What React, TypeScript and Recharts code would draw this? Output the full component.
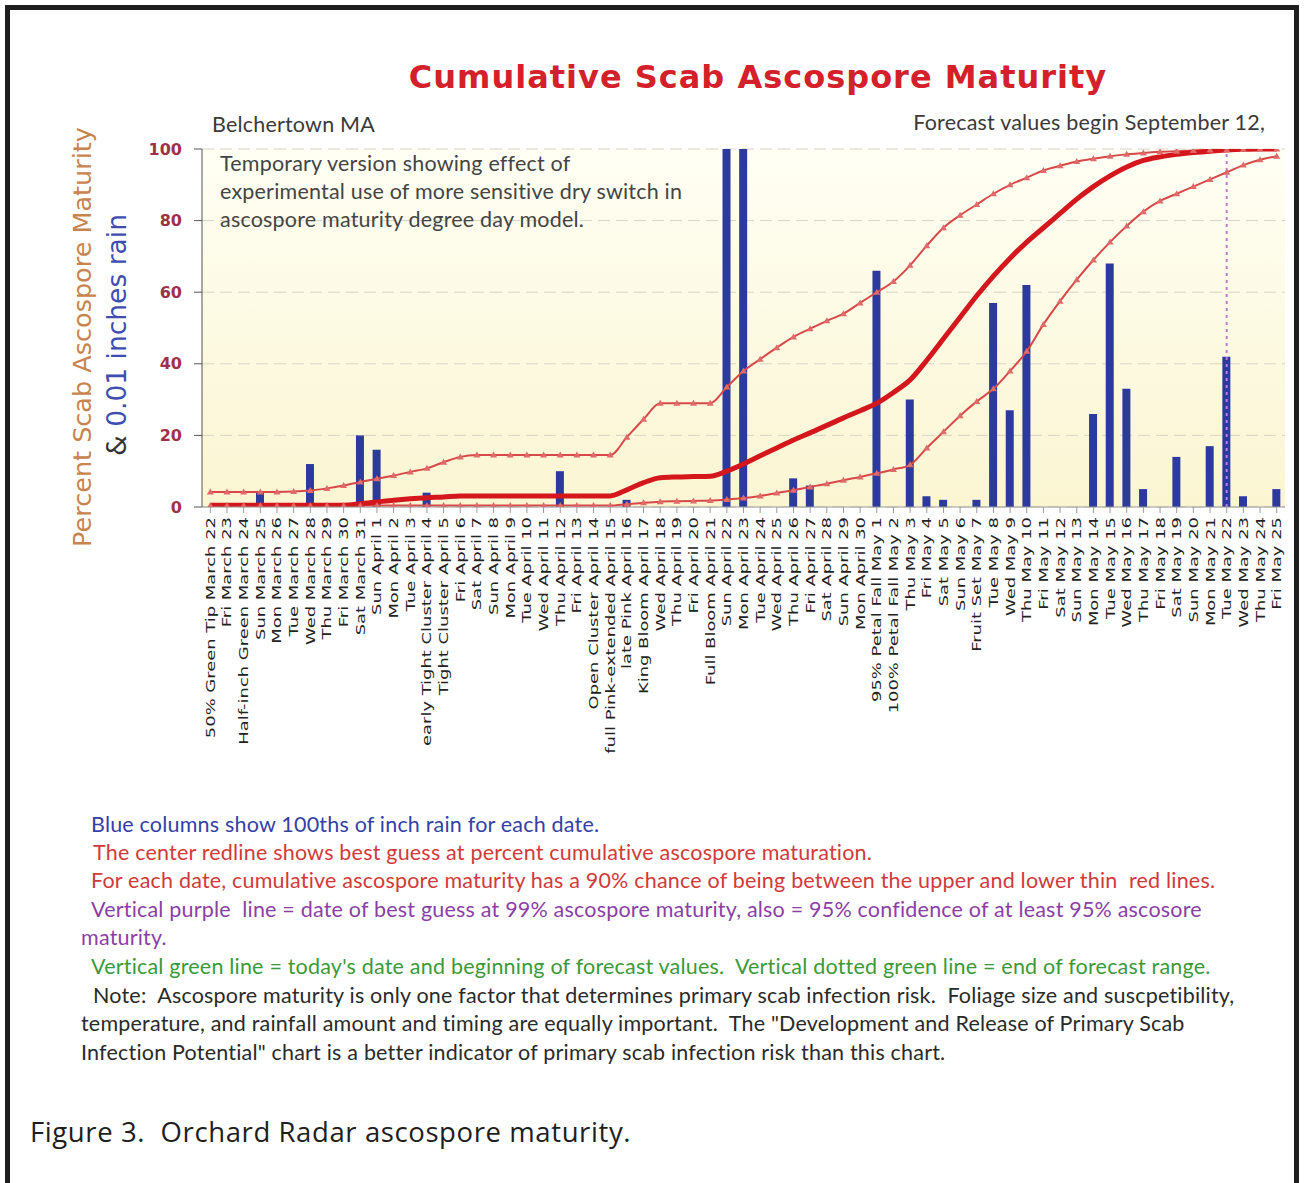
import { ComposedChart, Bar, Line, XAxis, YAxis, CartesianGrid, ReferenceLine } from "recharts";

const dates = [
  "March 22", "March 23", "March 24", "March 25", "March 26", "March 27", "March 28", "March 29", "March 30", "March 31",
  "April 1", "April 2", "April 3", "April 4", "April 5", "April 6", "April 7", "April 8", "April 9", "April 10",
  "April 11", "April 12", "April 13", "April 14", "April 15", "April 16", "April 17", "April 18", "April 19", "April 20",
  "April 21", "April 22", "April 23", "April 24", "April 25", "April 26", "April 27", "April 28", "April 29", "April 30",
  "May 1", "May 2", "May 3", "May 4", "May 5", "May 6", "May 7", "May 8", "May 9", "May 10",
  "May 11", "May 12", "May 13", "May 14", "May 15", "May 16", "May 17", "May 18", "May 19", "May 20",
  "May 21", "May 22", "May 23", "May 24", "May 25",
];

const stages = [
  "50% Green Tip", "Fri", "Half-inch Green", "Sun", "Mon", "Tue", "Wed", "Thu", "Fri", "Sat",
  "Sun", "Mon", "Tue", "early Tight Cluster", "Tight Cluster", "Fri", "Sat", "Sun", "Mon", "Tue",
  "Wed", "Thu", "Fri", "Open Cluster", "full Pink-extended", "late Pink", "King Bloom", "Wed", "Thu", "Fri",
  "Full Bloom", "Sun", "Mon", "Tue", "Wed", "Thu", "Fri", "Sat", "Sun", "Mon",
  "95% Petal Fall", "100% Petal Fall", "Thu", "Fri", "Sat", "Sun", "Fruit Set", "Tue", "Wed", "Thu",
  "Fri", "Sat", "Sun", "Mon", "Tue", "Wed", "Thu", "Fri", "Sat", "Sun",
  "Mon", "Tue", "Wed", "Thu", "Fri",
];

// 100ths of inch rain
const rain = [
  0, 0, 0, 4, 0, 0, 12, 0, 0, 20,
  16, 0, 0, 4, 0, 0, 0, 0, 0, 0,
  0, 10, 0, 0, 0, 2, 0, 0, 0, 0,
  0, 100, 100, 0, 0, 8, 6, 0, 0, 0,
  66, 0, 30, 3, 2, 0, 2, 57, 27, 62,
  0, 0, 0, 26, 68, 33, 5, 0, 14, 0,
  17, 42, 3, 0, 5,
];

const bestGuess = [
  0.5, 0.5, 0.5, 0.5, 0.5, 0.5, 0.5, 0.5, 0.5, 0.9,
  1.4, 1.9, 2.3, 2.6, 2.8, 3.1, 3.1, 3.1, 3.1, 3.1,
  3.1, 3.1, 3.1, 3.1, 3.1, 4.8, 6.8, 8.2, 8.4, 8.5,
  8.6, 10, 12, 14.3, 16.5, 18.7, 20.7, 22.8, 24.9, 26.9,
  29, 32, 35.5, 41, 47, 53, 59, 64.5, 69.5, 74,
  78, 82, 86, 89.5, 92.5, 95, 96.8, 97.8, 98.5, 99,
  99.4, 99.7, 99.9, 100, 100,
];

const upper90 = [
  4.2, 4.2, 4.2, 4.2, 4.2, 4.3, 4.6, 5.2, 6, 7,
  7.9, 8.8, 9.8, 10.8, 12.5, 14, 14.5, 14.5, 14.5, 14.5,
  14.5, 14.5, 14.5, 14.5, 14.5, 19.5, 24.5, 29, 29, 29,
  29, 33.5, 38, 41.3, 44.5, 47.5, 49.8, 52, 54, 57,
  60, 63, 67.5, 73, 78, 81.5, 84.5, 87.5, 90, 92,
  94, 95.3, 96.5, 97.3, 98, 98.5, 98.9, 99.2, 99.4, 99.6,
  99.7, 99.8, 99.9, 100, 100,
];

const lower90 = [
  0.4, 0.4, 0.4, 0.4, 0.4, 0.4, 0.4, 0.4, 0.4, 0.4,
  0.4, 0.4, 0.4, 0.4, 0.4, 0.4, 0.4, 0.4, 0.4, 0.4,
  0.4, 0.4, 0.4, 0.4, 0.4, 0.8, 1.2, 1.5, 1.6, 1.7,
  1.8, 2.1, 2.5, 3.1, 3.9, 4.7, 5.6, 6.5, 7.5, 8.4,
  9.4, 10.5, 11.8, 16.5, 21, 25.5, 29.5, 33, 38, 43.5,
  51, 57.5, 63.5, 69, 74, 78.5, 82.5, 85.5, 87.5, 89.5,
  91.5, 93.5, 95.5, 97, 98,
];

const yTicks = [0, 20, 40, 60, 80, 100];
const mature99Date = "May 22";

const notes = [
  { text: "Blue columns show 100ths of inch rain for each date.", color: "#3341a6", x: 91, y: 824 },
  { text: "The center redline shows best guess at percent cumulative ascospore maturation.", color: "#d13a3a", x: 93, y: 852 },
  { text: "For each date, cumulative ascospore maturity has a 90% chance of being between the upper and lower thin  red lines.", color: "#d13a3a", x: 91, y: 880 },
  { text: "Vertical purple  line = date of best guess at 99% ascospore maturity, also = 95% confidence of at least 95% ascosore", color: "#8b3fa6", x: 91, y: 909 },
  { text: "maturity.", color: "#8b3fa6", x: 81, y: 937 },
  { text: "Vertical green line = today's date and beginning of forecast values.  Vertical dotted green line = end of forecast range.", color: "#3a9a3a", x: 91, y: 966 },
  { text: "Note:  Ascospore maturity is only one factor that determines primary scab infection risk.  Foliage size and suscpetibility,", color: "#2a2a2a", x: 93, y: 995 },
  { text: "temperature, and rainfall amount and timing are equally important.  The \"Development and Release of Primary Scab", color: "#2a2a2a", x: 81, y: 1023 },
  { text: "Infection Potential\" chart is a better indicator of primary scab infection risk than this chart.", color: "#2a2a2a", x: 81, y: 1052 },
];

const data = dates.map((d, i) => ({
  date: d,
  rain: rain[i],
  best: bestGuess[i],
  upper: upper90[i],
  lower: lower90[i],
}));

const DateTick = (props: any) => {
  const { x, y, payload } = props;
  const i = dates.indexOf(payload.value);
  return (
    <text
      transform={`translate(${x + 4.5},${y + 2}) rotate(-90) scale(1.38,1)`}
      textAnchor="end"
      fontFamily="DejaVu Sans"
      fontSize={13}
      fill="#222"
    >
      {`${stages[i]} ${payload.value}`}
    </text>
  );
};

const triDot = (props: any) => {
  const { cx, cy, index } = props;
  if (cx == null || cy == null) return <g key={index} />;
  return (
    <path
      key={index}
      d={`M${cx - 3.5},${cy + 2.5} L${cx + 3.5},${cy + 2.5} L${cx},${cy - 3.5} Z`}
      fill="#e06a6a"
    />
  );
};

const sans = "Lato, 'Open Sans', sans-serif";
const textStyle = { fontSize: 21.5, letterSpacing: 0.2, lineHeight: "24px" };

export default function App() {
  return (
    <div style={{ position: "absolute", left: 0, top: 0, width: 1304, height: 1183, overflow: "hidden", background: "#fff", fontFamily: sans }}>
      <div style={{ position: "absolute", left: 5, top: 5, width: 1294, height: 1220, boxSizing: "border-box", border: "5px solid #1e1e1e" }} />

      <div style={{ position: "absolute", left: 258, top: 56, width: 1000, textAlign: "center", fontFamily: "'DejaVu Sans'", fontWeight: "bold", fontSize: 32, letterSpacing: 1, color: "#d4202a", lineHeight: "42px" }}>
        Cumulative Scab Ascospore Maturity
      </div>
      <div style={{ ...textStyle, position: "absolute", left: 212, top: 112, color: "#3a3a3a" }}>Belchertown MA</div>
      <div style={{ ...textStyle, position: "absolute", right: 1304 - 1265, top: 110, color: "#3a3a3a" }}>
        Forecast values begin September 12,
      </div>

      <div style={{ position: "absolute", left: 202, top: 149, width: 1083, height: 358, background: "linear-gradient(#fffff4, #fbf5d2)" }} />

      <div style={{ position: "absolute", left: 0, top: 0 }}>
        <ComposedChart width={1304} height={760} data={data} margin={{ top: 149, right: 19, bottom: 0, left: 142 }}>
          <CartesianGrid vertical={false} stroke="#d8d4c2" strokeDasharray="12 6" />
          <XAxis
            dataKey="date"
            interval={0}
            height={253}
            tick={<DateTick />}
            tickSize={6}
            stroke="#9a9a9a"
          />
          <YAxis
            domain={[0, 100]}
            ticks={yTicks}
            width={60}
            tickSize={8}
            tickMargin={12}
            stroke="#555"
            allowDataOverflow
            tick={{ fill: "#9e3148", fontSize: 16, fontWeight: "bold", fontFamily: "DejaVu Sans" }}
          />
          <ReferenceLine x={mature99Date} stroke="#c27ad2" strokeWidth={2} strokeDasharray="3 4" />
          <Bar dataKey="rain" fill="#2b3a9c" barSize={8} isAnimationActive={false} />
          <Line type="monotone" dataKey="lower" stroke="#d84848" strokeWidth={2} dot={triDot} isAnimationActive={false} />
          <Line type="monotone" dataKey="upper" stroke="#d84848" strokeWidth={2} dot={triDot} isAnimationActive={false} />
          <Line type="monotone" dataKey="best" stroke="#d4161d" strokeWidth={5} dot={false} isAnimationActive={false} />
        </ComposedChart>
      </div>

      <div style={{ ...textStyle, position: "absolute", left: 220, top: 149, lineHeight: "28px", color: "#444" }}>
        Temporary version showing effect of
        <br />
        experimental use of more sensitive dry switch in
        <br />
        ascospore maturity degree day model.
      </div>

      <div style={{ position: "absolute", left: 82 - 250, top: 337 - 15, width: 500, height: 30, lineHeight: "30px", textAlign: "center", transform: "rotate(-90deg)", fontFamily: "'DejaVu Sans'", fontSize: 25.5, color: "#c8844e" }}>
        Percent Scab Ascospore Maturity
      </div>
      <div style={{ position: "absolute", left: 117 - 250, top: 335 - 15, width: 500, height: 30, lineHeight: "30px", textAlign: "center", transform: "rotate(-90deg)", fontFamily: "'DejaVu Sans'", fontSize: 26.5, color: "#3d4db0" }}>
        <span style={{ color: "#333" }}>&amp;</span> 0.01 inches rain
      </div>

      {notes.map((n) => (
        <div key={n.y} style={{ ...textStyle, position: "absolute", left: n.x, top: n.y - 12, color: n.color, whiteSpace: "pre" }}>
          {n.text}
        </div>
      ))}

      <div style={{ position: "absolute", left: 30, top: 1114, fontFamily: "'Open Sans'", fontSize: 27.5, letterSpacing: 0.6, lineHeight: "36px", color: "#1e1e1e", whiteSpace: "pre" }}>
        Figure 3.  Orchard Radar ascospore maturity.
      </div>
    </div>
  );
}
